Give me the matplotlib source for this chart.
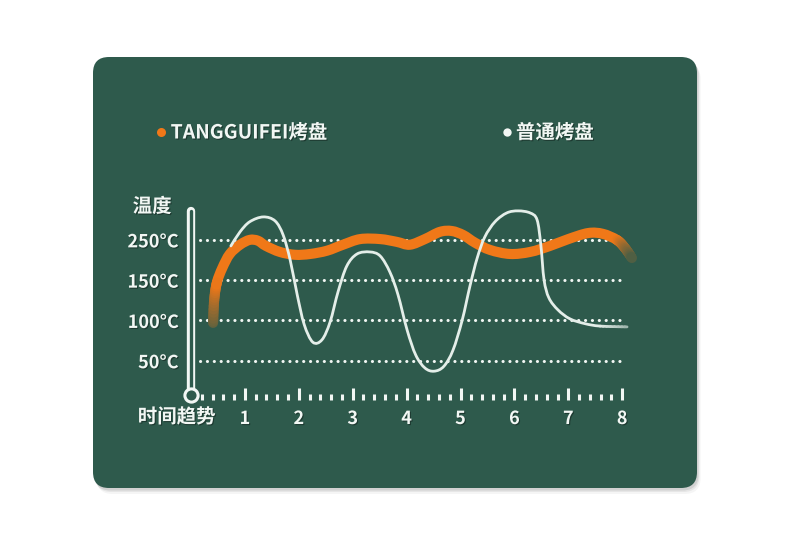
import numpy as np
import matplotlib
matplotlib.use("Agg")
import matplotlib.pyplot as plt
from matplotlib.patches import FancyBboxPatch, PathPatch
from matplotlib.path import Path
from matplotlib.lines import Line2D
from matplotlib.colors import to_rgb
import matplotlib.patheffects as pe

plt.rcParams['font.family'] = ['Noto Sans CJK SC', 'DejaVu Sans']

# colours
card_green = '#2e5a4c'
orange = '#f07818'
white = '#f2f7f4'

# data (x = time trend, y = temperature in °C)
orange_x = [0.41, 0.43, 0.48, 0.58, 0.72, 0.91, 1.09, 1.24, 1.39, 1.65, 1.93, 2.21,
            2.52, 2.82, 3.14, 3.51, 3.82, 4.06, 4.34, 4.62, 4.84, 5.05, 5.27, 5.55,
            5.92, 6.29, 6.66, 7.00, 7.37, 7.64, 7.90, 8.05, 8.18]
orange_y = [97, 125, 147, 180, 215, 238, 250, 248, 235, 220, 213, 215,
            223, 238, 252, 252, 245, 238, 252, 270, 272, 262, 243, 225,
            215, 220, 235, 252, 267, 265, 250, 230, 205]

white_x = [0.74, 0.91, 1.09, 1.34, 1.56, 1.71, 1.84, 1.97, 2.10, 2.26, 2.43, 2.58,
           2.73, 2.89, 3.08, 3.32, 3.51, 3.69, 3.84, 4.01, 4.17, 4.34, 4.51, 4.69,
           4.86, 5.03, 5.18, 5.31, 5.45, 5.64, 5.86, 6.07, 6.29, 6.42, 6.49, 6.55,
           6.64, 6.81, 7.03, 7.31, 7.59, 8.09]
white_y = [235, 270, 295, 307, 297, 262, 200, 132, 95, 73, 76, 98,
           136, 185, 215, 220, 210, 170, 132, 88, 57, 41, 37, 43,
           63, 100, 144, 205, 257, 295, 317, 322, 317, 300, 238, 151,
           128, 113, 102, 96, 93, 92]

temp_ticks = [50, 100, 150, 250]
temp_labels = ['50°C', '100°C', '150°C', '250°C']
time_ticks = [1, 2, 3, 4, 5, 6, 7, 8]
series_names = ['TANGGUIFEI烤盘', '普通烤盘']

# uneven temperature axis: each label step gets the same height
t_knots = [0, 50, 100, 150, 250, 350, 450]
l_knots = [0, 1, 2, 3, 4, 5, 6]
def fwd(t):
    return np.interp(t, t_knots, l_knots)
def inv(l):
    return np.interp(l, l_knots, t_knots)


def bezier_segments(xs, ys):
    # smooth cubic pieces through the read points (control points in scale space)
    p = np.column_stack([xs, fwd(np.array(ys, float))])
    p = np.vstack([p[0], p, p[-1]])
    segs = []
    for i in range(1, len(p) - 2):
        c1 = p[i] + (p[i + 1] - p[i - 1]) / 6
        c2 = p[i + 1] - (p[i + 2] - p[i]) / 6
        segs.append(np.array([p[i], c1, c2, p[i + 1]]))
    return segs


def split(b, t):
    a01 = b[0] + (b[1] - b[0]) * t
    a12 = b[1] + (b[2] - b[1]) * t
    a23 = b[2] + (b[3] - b[2]) * t
    b012 = a01 + (a12 - a01) * t
    b123 = a12 + (a23 - a12) * t
    m = b012 + (b123 - b012) * t
    return np.array([b[0], a01, b012, m]), np.array([m, b123, a23, b[3]])


def sub_curve(b, t0, t1):
    left, _ = split(b, t1)
    if t0 <= 0:
        return left
    _, right = split(left, t0 / t1)
    return right


def to_data(b):
    return np.column_stack([b[:, 0], inv(b[:, 1])])


def draw_curve(ax, segs, color, lw, z, fade_start=0, fade_end=0, start_mix=0.2, end_mix=0.2):
    rgb = np.array(to_rgb(color))
    bgc = np.array(to_rgb(card_green))
    n = len(segs)
    solid = segs[fade_start:n - fade_end]
    verts = [to_data(solid[0])[0]]
    codes = [Path.MOVETO]
    for b in solid:
        verts.extend(to_data(b)[1:])
        codes.extend([Path.CURVE4] * 3)
    ax.add_patch(PathPatch(Path(verts, codes), fc='none', ec=color, lw=lw,
                           capstyle='round', joinstyle='round', zorder=z))
    pieces = []
    k = 8
    for j in range(fade_start):
        for s in range(k):
            frac = (j * k + s + 0.5) / (fade_start * k)
            pieces.append((segs[j], s / k, (s + 1) / k, start_mix + (1 - start_mix) * frac))
    for j in range(fade_end):
        for s in range(k):
            frac = (j * k + s + 0.5) / (fade_end * k)
            pieces.append((segs[n - fade_end + j], s / k, (s + 1) / k,
                           1 - (1 - end_mix) * frac))
    for b, t0, t1, mix in pieces:
        c = bgc + (rgb - bgc) * mix
        sb = to_data(sub_curve(b, t0, t1))
        ax.add_patch(PathPatch(Path(sb, [Path.MOVETO] + [Path.CURVE4] * 3), fc='none',
                               ec=c, lw=lw, capstyle='round', zorder=z))


W, H = 790, 539
fig = plt.figure(figsize=(W / 100, H / 100), dpi=100)
fig.patch.set_facecolor('white')

# background card
bg = fig.add_axes([0, 0, 1, 1])
bg.set_xlim(0, W)
bg.set_ylim(H, 0)
bg.axis('off')
for off, a in [(6, 0.04), (4, 0.06), (2.5, 0.09)]:
    bg.add_patch(FancyBboxPatch((93 + off * 0.6, 57 + off), 604, 431,
                                boxstyle='round,pad=0,rounding_size=16',
                                fc='#000000', ec='none', alpha=a))
bg.add_patch(FancyBboxPatch((93, 57), 604, 431,
                            boxstyle='round,pad=0,rounding_size=16',
                            fc=card_green, ec='none'))

# chart axes
x_left, x_right = -0.17, 8.5
px_per_unit = 53.9
left_px = 191 + x_left * px_per_unit
right_px = 191 + x_right * px_per_unit
ax = fig.add_axes([left_px / W, 1 - 400 / H, (right_px - left_px) / W, 200 / H])
ax.set_facecolor('none')
ax.set_yscale('function', functions=(fwd, inv))
ax.set_xlim(x_left, x_right)
ax.set_ylim(1.25, 349)
for s in ax.spines.values():
    s.set_visible(False)

shadow = [pe.withSimplePatchShadow(offset=(0.8, -0.8), shadow_rgbFace='black', alpha=0.35)]

# dotted guide lines
ax.hlines(temp_ticks, 0.17, 8.0, colors=white, lw=2.2,
          linestyles=[(0, (0.05, 2.2))], capstyle='round', zorder=2)

# thermometer
t_bottom, t_top = 8, 322
ax.plot([0, 0], [t_bottom, t_top], color=white, lw=6, solid_capstyle='round',
        zorder=3, clip_on=False)
ax.plot([0, 0], [t_bottom, t_top], color=card_green, lw=2.4, solid_capstyle='round',
        zorder=3, clip_on=False)
ax.plot([0], [t_bottom], marker='o', ms=9.5, mfc=card_green, mec=white, mew=2.2,
        zorder=4, clip_on=False)

# series
draw_curve(ax, bezier_segments(orange_x, orange_y), orange, 7.3, 5,
           fade_start=2, fade_end=2, start_mix=0.25, end_mix=0.15)
draw_curve(ax, bezier_segments(white_x, white_y), '#e4eee9', 2.0, 6,
           fade_end=1, end_mix=0.6)

# ticks
ax.set_xticks(time_ticks)
ax.set_xticklabels([str(t) for t in time_ticks])
minor = [round(0.2 * k, 1) for k in range(1, 40) if k % 5 != 0]
ax.set_xticks(minor, minor=True)
ax.tick_params(axis='x', which='major', direction='in', length=8.5, width=2.2,
               color=white, pad=6.5, labelsize=13, labelcolor=white)
ax.tick_params(axis='x', which='minor', direction='in', length=4.3, width=2.2,
               color=white)
ax.set_yticks(temp_ticks)
ax.set_yticklabels(temp_labels)
ax.yaxis.set_minor_locator(matplotlib.ticker.NullLocator())
ax.tick_params(axis='y', length=0, pad=2.5, labelsize=13, labelcolor=white)
for lab in ax.get_xticklabels() + ax.get_yticklabels():
    lab.set_fontweight('bold')
    lab.set_path_effects(shadow)

# axis titles
ax.text(-0.72, 332, '温度', color=white, fontsize=14, fontweight='bold',
        ha='center', va='center', path_effects=shadow)
ax.text(0.46, -0.085, '时间趋势', transform=ax.get_xaxis_transform(), color=white,
        fontsize=14, fontweight='bold', ha='right', va='center',
        path_effects=shadow)

# legend
handles = [Line2D([], [], ls='none', marker='o', ms=6.5, mfc=orange, mec='none'),
           Line2D([], [], ls='none', marker='o', ms=6, mfc=white, mec='none')]
leg = fig.legend(handles, series_names, ncol=2, loc='center left',
                 bbox_to_anchor=(157 / W, 1 - 133 / H), frameon=False,
                 handlelength=0.45, handletextpad=0.25, columnspacing=9.0,
                 borderaxespad=0, borderpad=0,
                 prop={'size': 14, 'weight': 'bold'}, labelcolor=white)
for t in leg.get_texts():
    t.set_path_effects(shadow)

fig.savefig('out.png', dpi=100, facecolor='white')
